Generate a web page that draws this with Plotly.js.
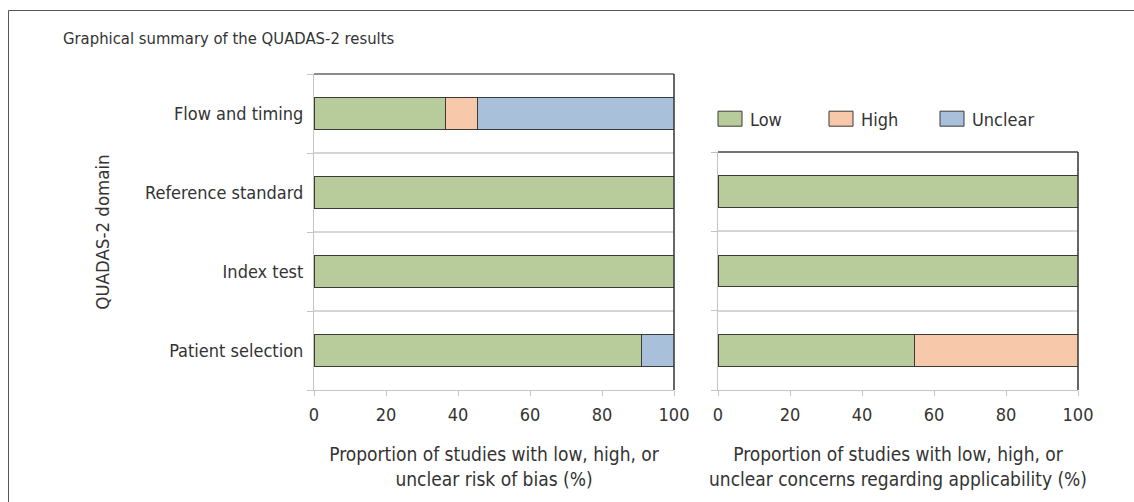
<!DOCTYPE html>
<html>
<head>
<meta charset="utf-8">
<script src="https://cdn.plot.ly/plotly-3.0.1.min.js"></script>
<style>
  html, body { margin: 0; padding: 0; background: #fff; }
  #chart { width: 1134px; height: 502px; }
</style>
</head>
<body>
<div id="chart"></div>
<script>
// ---- Data ----
const domainsBias = ['Patient selection', 'Index test', 'Reference standard', 'Flow and timing'];
const domainsApplic = ['Patient selection', 'Index test', 'Reference standard'];

// Risk of bias (%)
const biasLow     = [90.9, 100, 100, 36.4];
const biasHigh    = [0,    0,   0,   9.1];
const biasUnclear = [9.1,  0,   0,   54.5];

// Applicability concerns (%)
const applicLow     = [54.5, 100, 100];
const applicHigh    = [45.5, 0,   0];
const applicUnclear = [0,    0,   0];

const seriesNames  = ['Low', 'High', 'Unclear'];
const seriesColors = ['#b8cc9b', '#f7c8a9', '#a9c0da'];
const xTicks = [0, 20, 40, 60, 80, 100];

// ---- Style ----
const FONT = 'DejaVu Sans Condensed, DejaVu Sans, sans-serif';
const TXT = '#333333';
const W = 1134, H = 502;
const px = v => v / W;
const py = v => (H - v) / H;

const biasSets = [biasLow, biasHigh, biasUnclear];
const applicSets = [applicLow, applicHigh, applicUnclear];

const traces = [];
seriesNames.forEach((name, i) => {
  traces.push({
    type: 'bar', orientation: 'h', name: name,
    x: biasSets[i], y: domainsBias,
    xaxis: 'x', yaxis: 'y',
    legendgroup: name, showlegend: true,
    marker: { color: seriesColors[i], line: { color: '#3a3a3a', width: 1 } },
    hoverinfo: 'x+y+name'
  });
});
seriesNames.forEach((name, i) => {
  traces.push({
    type: 'bar', orientation: 'h', name: name,
    x: applicSets[i], y: domainsApplic,
    xaxis: 'x2', yaxis: 'y2',
    legendgroup: name, showlegend: false,
    marker: { color: seriesColors[i], line: { color: '#3a3a3a', width: 1 } },
    hoverinfo: 'x+y+name'
  });
});

const xCommon = {
  range: [0, 100], tickvals: xTicks, ticktext: xTicks.map(String),
  ticks: 'outside', ticklen: 5, tickcolor: '#c4c4c4', tickwidth: 1,
  ticklabelstandoff: 3,
  showline: true, linecolor: '#c4c4c4', linewidth: 1,
  showgrid: false, zeroline: false, fixedrange: true,
  tickfont: { family: FONT, size: 18, color: TXT }
};
const yCommon = {
  type: 'category', tickson: 'boundaries',
  ticks: 'outside', ticklen: 6, tickcolor: '#c4c4c4',
  ticklabelstandoff: 6,
  showline: true, linecolor: '#c4c4c4', linewidth: 1,
  showgrid: true, gridcolor: '#d6d6d6', gridwidth: 1.5,
  zeroline: false, fixedrange: true,
  tickfont: { family: FONT, size: 18, color: TXT }
};

const layout = {
  width: W, height: H,
  margin: { l: 0, r: 0, t: 0, b: 0 },
  paper_bgcolor: '#ffffff', plot_bgcolor: '#ffffff',
  font: { family: FONT, color: TXT },
  barmode: 'stack', bargap: 0.6,
  showlegend: true,
  title: {
    text: 'Graphical summary of the QUADAS-2 results',
    x: px(63), xanchor: 'left', xref: 'paper',
    y: py(38), yanchor: 'middle', yref: 'paper',
    font: { family: FONT, size: 16.5, color: TXT }
  },
  legend: {
    orientation: 'h', x: px(710), xanchor: 'left', y: py(119), yanchor: 'middle',
    entrywidth: 66, entrywidthmode: 'pixels', traceorder: 'normal',
    font: { family: FONT, size: 18, color: TXT }, bgcolor: 'rgba(0,0,0,0)'
  },
  xaxis: Object.assign({}, xCommon, {
    domain: [px(314), px(674)], anchor: 'y',
    title: { text: 'Proportion of studies with low, high, or<br>unclear risk of bias (%)',
             font: { family: FONT, size: 19, color: TXT }, standoff: 24 }
  }),
  yaxis: Object.assign({}, yCommon, {
    domain: [py(390), py(74)], anchor: 'x',
    categoryorder: 'array', categoryarray: domainsBias, range: [-0.5, 3.5],
    title: { text: 'QUADAS-2 domain', font: { family: FONT, size: 18.5, color: TXT }, standoff: 30 }
  }),
  xaxis2: Object.assign({}, xCommon, {
    domain: [px(718), px(1078)], anchor: 'y2',
    title: { text: 'Proportion of studies with low, high, or<br>unclear concerns regarding applicability (%)',
             font: { family: FONT, size: 19, color: TXT }, standoff: 24 }
  }),
  yaxis2: Object.assign({}, yCommon, {
    domain: [py(390), py(152)], anchor: 'x2',
    categoryorder: 'array', categoryarray: domainsApplic, range: [-0.5, 2.5],
    showticklabels: false
  }),
  shapes: [
    // outer frame
    { type: 'rect', xref: 'paper', yref: 'paper', x0: px(8.5), x1: 1.2, y0: -0.2, y1: py(10.5),
      line: { color: '#555555', width: 1 }, fillcolor: 'rgba(0,0,0,0)', layer: 'below' },
    // left plot top and right borders
    { type: 'line', xref: 'x domain', yref: 'y domain', x0: 0, x1: 1, y0: 1, y1: 1,
      line: { color: '#666666', width: 1.5 } },
    { type: 'line', xref: 'x domain', yref: 'y domain', x0: 1, x1: 1, y0: 0, y1: 1,
      line: { color: '#333333', width: 1.5 } },
    // right plot top and right borders
    { type: 'line', xref: 'x2 domain', yref: 'y2 domain', x0: 0, x1: 1, y0: 1, y1: 1,
      line: { color: '#444444', width: 1.5 } },
    { type: 'line', xref: 'x2 domain', yref: 'y2 domain', x0: 1, x1: 1, y0: 0, y1: 1,
      line: { color: '#333333', width: 1.5 } }
  ]
};

// Enlarge the legend swatches to the wide rectangles of the original
function enlargeSwatches(gd) {
  gd.querySelectorAll('.legend .legendpoints path').forEach(p => {
    p.setAttribute('d', 'M12,7.5H-12V-7.5H12Z');
    p.style.strokeWidth = '1px';
  });
}

Plotly.newPlot('chart', traces, layout, { displayModeBar: false }).then(gd => {
  enlargeSwatches(gd);
  gd.on('plotly_afterplot', () => enlargeSwatches(gd));
});
</script>
</body>
</html>
